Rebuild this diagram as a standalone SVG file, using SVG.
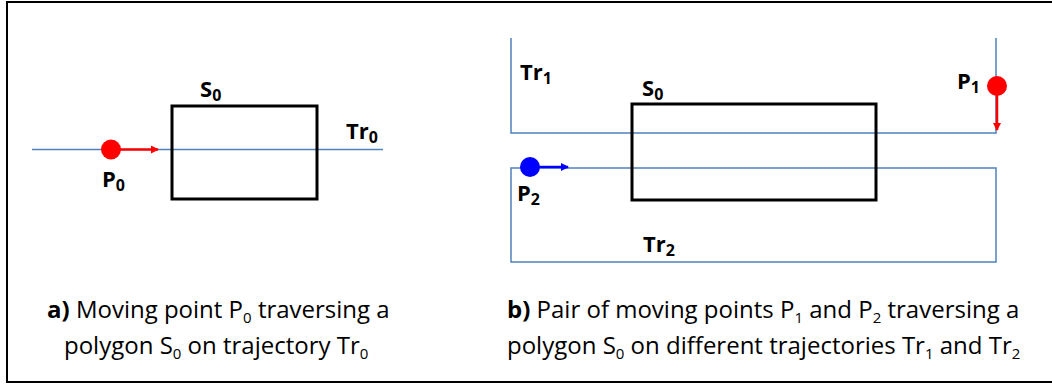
<svg xmlns="http://www.w3.org/2000/svg" width="1052" height="385" viewBox="0 0 1052 385">
<style>
.lbl{font-family:"Open Sans","Liberation Sans",sans-serif;font-weight:bold;font-size:22px;fill:#000}
.sub{font-size:16px}
.cap{font-family:"Open Sans","Liberation Sans",sans-serif;font-size:24px;fill:#000}
.cap .sub{font-size:15px}
.traj{fill:none;stroke:#4f81bd;stroke-width:1.5}
.poly{fill:none;stroke:#000;stroke-width:3}
</style>
<defs>
<marker id="ahr" markerWidth="8" markerHeight="8" refX="7" refY="4" orient="auto" markerUnits="userSpaceOnUse"><path d="M0,0 L8,4 L0,8 z" fill="#ff0000"/></marker>
<marker id="ahb" markerWidth="8" markerHeight="8" refX="7" refY="4" orient="auto" markerUnits="userSpaceOnUse"><path d="M0,0 L8,4 L0,8 z" fill="#0000ff"/></marker>
</defs>
<rect x="7" y="2" width="1046" height="380" fill="#fff" stroke="#000" stroke-width="2"/>
<g id="connectors">
<line class="traj" x1="32" y1="149.5" x2="383" y2="149.5"/>
<polyline class="traj" points="511,38 511,133 996,133 996,38"/>
<rect class="traj" x="511" y="168" width="485" height="94"/>
<line x1="120" y1="149.5" x2="158" y2="149.5" stroke="#ff0000" stroke-width="2.5" marker-end="url(#ahr)"/>
<line x1="997" y1="94" x2="997" y2="130" stroke="#ff0000" stroke-width="2.5" marker-end="url(#ahr)"/>
<line x1="538" y1="167" x2="568" y2="167" stroke="#0000ff" stroke-width="2.5" marker-end="url(#ahb)"/>
</g>
<g id="S0a"><rect class="poly" x="172" y="106" width="145" height="93"/><text class="lbl" x="200" y="97">S<tspan class="sub" dy="4">0</tspan></text></g>
<g id="S0b"><rect class="poly" x="632" y="104" width="244" height="96"/><text class="lbl" x="642" y="96">S<tspan class="sub" dy="4">0</tspan></text></g>
<g id="P0"><circle cx="111" cy="149.5" r="10" fill="#ff0000"/><text class="lbl" x="102" y="187">P<tspan class="sub" dy="4">0</tspan></text></g>
<g id="P1"><circle cx="997" cy="86" r="10" fill="#ff0000"/><text class="lbl" x="957" y="89">P<tspan class="sub" dy="4">1</tspan></text></g>
<g id="P2"><circle cx="530" cy="167" r="10" fill="#0000ff"/><text class="lbl" x="517" y="201">P<tspan class="sub" dy="4">2</tspan></text></g>
<g id="Tr0"><text class="lbl" x="346" y="139">Tr<tspan class="sub" dy="4">0</tspan></text></g>
<g id="Tr1"><text class="lbl" x="520" y="80">Tr<tspan class="sub" dy="4">1</tspan></text></g>
<g id="Tr2"><text class="lbl" x="643" y="252">Tr<tspan class="sub" dy="4">2</tspan></text></g>
<g id="captionA">
<text class="cap" x="47" y="318"><tspan font-weight="bold">a)</tspan> Moving point P<tspan class="sub" dy="5">0</tspan><tspan dy="-5"> traversing a</tspan></text>
<text class="cap" x="64" y="354">polygon S<tspan class="sub" dy="5">0</tspan><tspan dy="-5"> on trajectory Tr</tspan><tspan class="sub" dy="5">0</tspan></text>
</g>
<g id="captionB">
<text class="cap" x="507" y="318"><tspan font-weight="bold">b)</tspan> Pair of moving points P<tspan class="sub" dy="5">1</tspan><tspan dy="-5"> and P</tspan><tspan class="sub" dy="5">2</tspan><tspan dy="-5"> traversing a</tspan></text>
<text class="cap" x="507" y="354">polygon S<tspan class="sub" dy="5">0</tspan><tspan dy="-5"> on different trajectories Tr</tspan><tspan class="sub" dy="5">1</tspan><tspan dy="-5"> and Tr</tspan><tspan class="sub" dy="5">2</tspan></text>
</g>
</svg>
